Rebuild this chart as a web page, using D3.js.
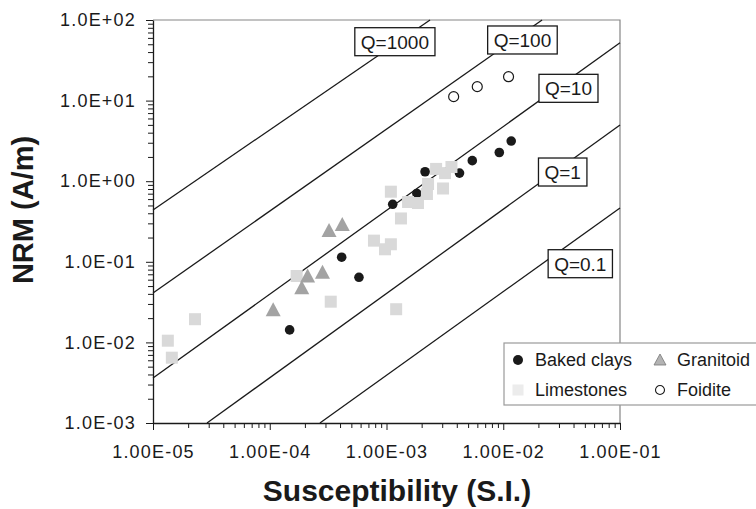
<!DOCTYPE html>
<html>
<head>
<meta charset="utf-8">
<script src="https://cdn.jsdelivr.net/npm/d3@7"></script>
<style>
  body { margin: 0; background: #fff; }
  svg { display: block; font-family: "Liberation Sans", Arial, sans-serif; }
</style>
</head>
<body>
<svg id="chart" width="756" height="509"></svg>
<script>
// axis ticks
const xTicks = [1e-5, 1e-4, 1e-3, 1e-2, 1e-1];
const xTickLabels = ["1.00E-05", "1.00E-04", "1.00E-03", "1.00E-02", "1.00E-01"];
const yTicks = [1e-3, 1e-2, 1e-1, 1e0, 1e1, 1e2];
const yTickLabels = ["1.0E-03", "1.0E-02", "1.0E-01", "1.0E+00", "1.0E+01", "1.0E+02"];

// samples: susceptibility (S.I.) and NRM (A/m)
const bakedK   = [1.48e-4, 4.13e-4, 5.81e-4, 1.13e-3, 1.82e-3, 2.14e-3, 4.22e-3, 5.43e-3, 9.25e-3, 1.17e-2];
const bakedNRM = [0.0143, 0.114, 0.0642, 0.517, 0.704, 1.31, 1.26, 1.80, 2.27, 3.15];

const limeK   = [1.34e-5, 1.45e-5, 2.29e-5, 1.70e-4, 3.33e-4, 7.81e-4, 9.71e-4, 1.09e-3, 1.21e-3, 1.33e-3,
                 1.09e-3, 1.53e-3, 1.86e-3, 2.22e-3, 2.27e-3, 2.66e-3, 3.05e-3, 3.60e-3, 3.17e-3];
const limeNRM = [0.0105, 0.00646, 0.0194, 0.0666, 0.032, 0.183, 0.143, 0.165, 0.0258, 0.345,
                 0.741, 0.552, 0.536, 0.694, 0.923, 1.42, 0.812, 1.50, 1.26];

const graniteK   = [1.07e-4, 1.88e-4, 2.11e-4, 2.83e-4, 3.22e-4, 4.18e-4];
const graniteNRM = [0.0258, 0.0483, 0.0676, 0.0754, 0.248, 0.294];

const foidK   = [3.76e-3, 5.99e-3, 1.11e-2];
const foidNRM = [11.2, 14.9, 19.8];

// Koenigsberger ratio lines (end points)
const qLabels   = ["Q=1000", "Q=100", "Q=10", "Q=1", "Q=0.1"];
const qStartK   = [1e-5, 1e-5, 1e-5, 2.9e-5, 2.69e-4];
const qStartNRM = [0.44, 0.041, 0.00361, 0.001, 0.001];
const qEndK     = [2.36e-3, 2.15e-2, 0.1, 0.1, 0.1];
const qEndNRM   = [100, 100, 52.3, 4.98, 0.465];

const plotL = 153, plotR = 620, plotT = 20, plotB = 423;

const svg = d3.select("#chart");

const x = d3.scaleLog().domain([1e-5, 1e-1]).range([plotL, plotR]);
const y = d3.scaleLog().domain([1e-3, 1e2]).range([plotB, plotT]);

// where the Q boxes sit (data coords)
const qBoxAt = [[1.18e-3, 53.8], [1.46e-2, 56.5], [3.62e-2, 14.2], [3.23e-2, 1.30], [4.57e-2, 0.0947]];

// frame (top / right)
svg.append("path")
  .attr("d", `M${plotL},${plotT}H${plotR}V${plotB}`)
  .attr("fill", "none")
  .attr("stroke", "#858585")
  .attr("stroke-width", 1.2);

// Q lines
qLabels.forEach((q, i) => {
  svg.append("line")
    .attr("x1", x(qStartK[i])).attr("y1", y(qStartNRM[i]))
    .attr("x2", x(qEndK[i])).attr("y2", y(qEndNRM[i]))
    .attr("stroke", "#1a1a1a")
    .attr("stroke-width", 1.3);
});

// Q boxes
qLabels.forEach((q, i) => {
  const g = svg.append("g")
    .attr("transform", `translate(${x(qBoxAt[i][0])},${y(qBoxAt[i][1])})`);
  const rect = g.append("rect");
  const t = g.append("text")
    .attr("text-anchor", "middle")
    .attr("dy", "0.36em")
    .attr("font-size", 19)
    .attr("fill", "#1a1a1a")
    .text(q);
  const bb = t.node().getBBox();
  rect.attr("x", -bb.width / 2 - 6).attr("y", -14)
    .attr("width", bb.width + 12).attr("height", 28)
    .attr("fill", "#fff")
    .attr("stroke", "#1a1a1a")
    .attr("stroke-width", 1.3);
});

// points
const triangle = "M0,-7L7.5,7L-7.5,7Z";

svg.append("g").selectAll("circle")
  .data(bakedK.map((k, i) => [k, bakedNRM[i]]))
  .join("circle")
  .attr("cx", d => x(d[0])).attr("cy", d => y(d[1]))
  .attr("r", 4.8)
  .attr("fill", "#1a1a1a");

svg.append("g").selectAll("rect")
  .data(limeK.map((k, i) => [k, limeNRM[i]]))
  .join("rect")
  .attr("x", d => x(d[0]) - 6).attr("y", d => y(d[1]) - 6)
  .attr("width", 12).attr("height", 12)
  .attr("fill", "#d9d9d9");

svg.append("g").selectAll("path")
  .data(graniteK.map((k, i) => [k, graniteNRM[i]]))
  .join("path")
  .attr("transform", d => `translate(${x(d[0])},${y(d[1])})`)
  .attr("d", triangle)
  .attr("fill", "#a3a3a3");

svg.append("g").selectAll("circle")
  .data(foidK.map((k, i) => [k, foidNRM[i]]))
  .join("circle")
  .attr("cx", d => x(d[0])).attr("cy", d => y(d[1]))
  .attr("r", 5)
  .attr("fill", "#fff")
  .attr("stroke", "#1a1a1a")
  .attr("stroke-width", 1.2);

// minor ticks
function minors(lo, hi) {
  const out = [];
  for (let e = lo; e < hi; e++) for (let m = 2; m <= 9; m++) out.push(m * Math.pow(10, e));
  return out;
}

svg.append("g")
  .attr("transform", `translate(${plotL},0)`)
  .call(d3.axisLeft(y).tickValues(minors(-3, 2)).tickSize(5).tickFormat(""))
  .call(g => g.select(".domain").remove())
  .selectAll("line").attr("stroke", "#1a1a1a");

svg.append("g")
  .attr("transform", `translate(0,${plotB})`)
  .call(d3.axisBottom(x).tickValues(minors(-5, -1)).tickSize(5).tickFormat(""))
  .call(g => g.select(".domain").remove())
  .selectAll("line").attr("stroke", "#1a1a1a");

// main axes
const yAxis = svg.append("g")
  .attr("transform", `translate(${plotL},0)`)
  .call(d3.axisLeft(y).tickValues(yTicks).tickFormat((d, i) => yTickLabels[i])
    .tickSize(7).tickSizeOuter(0).tickPadding(10));

const xAxis = svg.append("g")
  .attr("transform", `translate(0,${plotB})`)
  .call(d3.axisBottom(x).tickValues(xTicks).tickFormat((d, i) => xTickLabels[i])
    .tickSize(7).tickSizeOuter(0).tickPadding(15));

[xAxis, yAxis].forEach(a => {
  a.select(".domain").attr("stroke", "#1a1a1a").attr("stroke-width", 1.3);
  a.selectAll(".tick line").attr("stroke", "#1a1a1a");
  a.selectAll("text").attr("font-size", 18).attr("fill", "#1a1a1a")
    .attr("letter-spacing", 1.2)
    .attr("font-family", "'Liberation Sans', Arial, sans-serif");
});

// axis titles
svg.append("text")
  .attr("x", 397).attr("y", 501)
  .attr("text-anchor", "middle")
  .attr("font-size", 30).attr("font-weight", "bold")
  .attr("fill", "#1a1a1a")
  .text("Susceptibility (S.I.)");

svg.append("text")
  .attr("transform", "translate(33,210) rotate(-90)")
  .attr("text-anchor", "middle")
  .attr("font-size", 29).attr("font-weight", "bold")
  .attr("fill", "#1a1a1a")
  .text("NRM (A/m)");

// legend
const legend = svg.append("g").attr("transform", "translate(504,343)");
legend.append("rect")
  .attr("width", 270).attr("height", 62)
  .attr("fill", "#fff")
  .attr("stroke", "#9a9a9a")
  .attr("stroke-width", 1.2);

const legendItems = [
  { name: "Baked clays", col: 0, row: 0, mark: "dot" },
  { name: "Granitoid", col: 1, row: 0, mark: "tri" },
  { name: "Limestones", col: 0, row: 1, mark: "sq" },
  { name: "Foidite", col: 1, row: 1, mark: "ring" }
];

legendItems.forEach(it => {
  const g = legend.append("g")
    .attr("transform", `translate(${14 + it.col * 142},${17 + it.row * 30})`);
  if (it.mark === "dot") g.append("circle").attr("r", 5).attr("fill", "#1a1a1a");
  if (it.mark === "sq") g.append("rect").attr("x", -5.5).attr("y", -5.5).attr("width", 11).attr("height", 11).attr("fill", "#ececec");
  if (it.mark === "tri") g.append("path").attr("d", "M0,-6L6,5L-6,5Z").attr("fill", "#b3b3b3").attr("stroke", "#777").attr("stroke-width", 0.8);
  if (it.mark === "ring") g.append("circle").attr("r", 4.5).attr("fill", "#fff").attr("stroke", "#1a1a1a").attr("stroke-width", 1.1);
  g.append("text")
    .attr("x", 17).attr("dy", "0.36em")
    .attr("font-size", 18).attr("fill", "#1a1a1a")
    .text(it.name);
});
</script>
</body>
</html>
